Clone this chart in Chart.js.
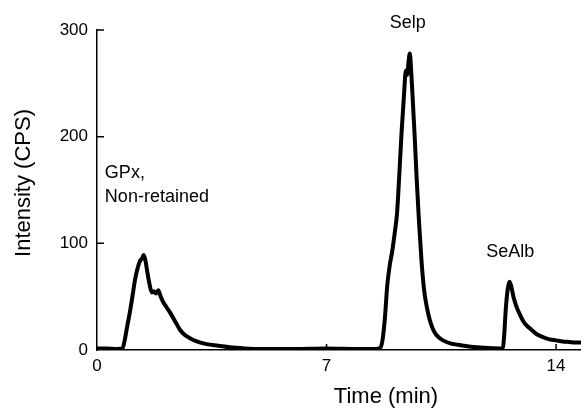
<!DOCTYPE html>
<html>
<head>
<meta charset="utf-8">
<script src="https://cdn.jsdelivr.net/npm/chart.js@4"></script>
<style>
  body { margin: 0; background: #fff; }
  canvas { display: block; }
</style>
</head>
<body>
<canvas id="chart" width="581" height="417"></canvas>
<script>
// chromatogram: time (min) vs intensity (CPS)
var time = [
  0, 0.3, 0.6, 0.78, 0.85, 0.92, 1.0, 1.08, 1.16, 1.25, 1.32, 1.38, 1.42, 1.47, 1.53, 1.6,
  1.67, 1.73, 1.8, 1.87, 1.93, 2.0, 2.1, 2.23, 2.38, 2.53, 2.68, 2.84, 3.0, 3.34, 3.7, 4.05,
  4.5, 5.0, 6.0, 7.0, 8.0, 8.5, 8.62, 8.7, 8.78, 8.85, 8.93, 9.0, 9.08, 9.15, 9.22, 9.29,
  9.36, 9.42, 9.46, 9.5, 9.54, 9.58, 9.62, 9.68, 9.75, 9.82, 9.9, 9.98, 10.06, 10.15, 10.24,
  10.35, 10.55, 10.8, 11.0, 11.4, 11.8, 12.3, 12.38, 12.42, 12.47, 12.53, 12.58, 12.63, 12.7,
  12.8, 12.9, 13.0, 13.1, 13.25, 13.4, 13.6, 13.8, 14.0, 14.2, 14.4, 14.6, 14.76
];
var intensity = [
  1.5, 1.5, 1, 1.5, 10, 22, 35, 50, 66, 78, 84, 86, 89, 85, 74, 62,
  54, 55, 53, 56, 51, 46, 41, 35, 27, 19, 14, 11, 8.5, 5.5, 4, 2.5,
  1.5, 1, 1, 1.5, 1, 1, 1.5, 8, 30, 60, 80, 92, 110, 128, 165, 205,
  238, 262, 258, 270, 278, 262, 240, 205, 160, 120, 82, 55, 40, 28, 20,
  14, 9, 6, 5, 3, 2, 1.5, 2, 15, 40, 58, 64, 60, 50,
  40, 33, 27, 23, 19, 15, 12, 10, 9, 8, 7.5, 7, 7
];

var xTicks = [0, 7, 14];
var yTicks = [0, 100, 200, 300];

// peak labels, placed in data units
var peakLabels = [
  { text: 'GPx,', x: 0.24, y: 166, align: 'left' },
  { text: 'Non-retained', x: 0.24, y: 143.5, align: 'left' },
  { text: 'Selp', x: 9.48, y: 307, align: 'center' },
  { text: 'SeAlb', x: 12.6, y: 92, align: 'center' }
];

var FONT = '"Liberation Sans", Arial, sans-serif';

// inward tick marks, axis titles and peak labels
var extras = {
  id: 'extras',
  afterDraw(chart) {
    var ctx = chart.ctx;
    var xs = chart.scales.x, ys = chart.scales.y;
    var area = chart.chartArea;
    ctx.save();
    ctx.strokeStyle = '#000';
    ctx.lineWidth = 1.5;
    ctx.beginPath();
    yTicks.forEach(v => {
      if (v === 0) return;
      var py = ys.getPixelForValue(v);
      ctx.moveTo(area.left, py);
      ctx.lineTo(area.left + 7, py);
    });
    xTicks.forEach(v => {
      if (v === 0) return;
      var px = xs.getPixelForValue(v);
      ctx.moveTo(px, area.bottom);
      ctx.lineTo(px, area.bottom - 6);
    });
    ctx.stroke();

    ctx.fillStyle = '#000';
    ctx.textBaseline = 'middle';
    ctx.font = '18px ' + FONT;
    peakLabels.forEach(l => {
      ctx.textAlign = l.align;
      ctx.fillText(l.text, xs.getPixelForValue(l.x), ys.getPixelForValue(l.y));
    });

    ctx.font = '22px ' + FONT;
    ctx.textAlign = 'center';
    ctx.fillText('Time (min)', 386, 397);
    ctx.translate(24, 183);
    ctx.rotate(-Math.PI / 2);
    ctx.fillText('Intensity (CPS)', 0, 0);
    ctx.restore();
  }
};

var ctx = document.getElementById('chart').getContext('2d');
var myChart = new Chart(ctx, {
  type: 'line',
  data: {
    datasets: [{
      data: time.map((t, i) => ({ x: t, y: intensity[i] })),
      borderColor: '#000',
      borderWidth: 4,
      borderJoinStyle: 'round',
      pointRadius: 0,
      fill: false,
      cubicInterpolationMode: 'monotone'
    }]
  },
  options: {
    responsive: false,
    animation: false,
    devicePixelRatio: 1,
    layout: { padding: { top: 30, right: 0, left: 0, bottom: 0 } },
    plugins: { legend: { display: false }, tooltip: { enabled: false } },
    scales: {
      x: {
        type: 'linear',
        min: 0,
        max: 14.76,
        afterBuildTicks: s => { s.ticks = xTicks.map(v => ({ value: v })); },
        afterFit: s => { s.height = 67; },
        grid: { display: false, drawTicks: false },
        border: { display: true, color: '#000', width: 1.5 },
        ticks: { color: '#000', font: { size: 17, family: FONT }, padding: 6, maxRotation: 0 }
      },
      y: {
        min: 0,
        max: 300,
        afterBuildTicks: s => { s.ticks = yTicks.map(v => ({ value: v })); },
        afterFit: s => { s.width = 97; },
        grid: { display: false, drawTicks: false },
        border: { display: true, color: '#000', width: 1.5 },
        ticks: { color: '#000', font: { size: 17, family: FONT }, padding: 9 }
      }
    }
  },
  plugins: [extras]
});
</script>
</body>
</html>
